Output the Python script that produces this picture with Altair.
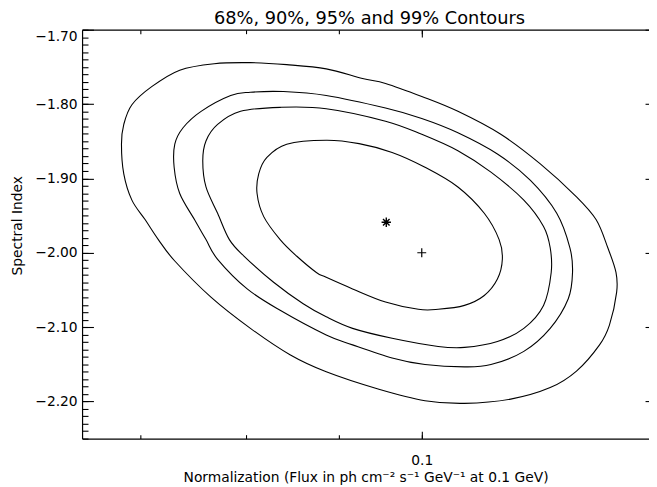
import altair as alt
import pandas as pd

# ---- data (closed loops, drawn with a closed curve) ----
# 68% contour
c68_x = [0.08217, 0.08426, 0.08859, 0.09236, 0.09631, 0.10041, 0.10469, 0.10825, 0.11031, 0.11076,
         0.11007, 0.10825, 0.10557, 0.10210, 0.09957, 0.09551, 0.09160, 0.08859, 0.08749, 0.08532,
         0.08356, 0.08184, 0.08115, 0.08132]
c68_y = [-1.8717, -1.8540, -1.8486, -1.8532, -1.8651, -1.8850, -1.9115, -1.9469, -1.9823, -2.0088,
         -2.0354, -2.0575, -2.0708, -2.0761, -2.0761, -2.0663, -2.0486, -2.0331, -2.0265, -2.0044,
         -1.9823, -1.9514, -1.9203, -1.8938]
# 90% contour
c90_x = [0.07719, 0.07947, 0.08356, 0.08859, 0.09551, 0.10000, 0.10469, 0.10917, 0.11382, 0.11670,
         0.11769, 0.11784, 0.11670, 0.11382, 0.11007, 0.10557, 0.10210, 0.09631, 0.09160, 0.08859,
         0.08604, 0.08287, 0.07981, 0.07835, 0.07719, 0.07606, 0.07575, 0.07606]
c90_y = [-1.8274, -1.8098, -1.8044, -1.8062, -1.8230, -1.8407, -1.8628, -1.8916, -1.9292, -1.9646,
         -1.9933, -2.0265, -2.0708, -2.1017, -2.1194, -2.1273, -2.1260, -2.1150, -2.1017, -2.0862,
         -2.0686, -2.0397, -2.0044, -1.9823, -1.9469, -1.9115, -1.8761, -1.8496]
# 95% contour
c95_x = [0.07559, 0.07848, 0.08047, 0.08391, 0.08859, 0.09551, 0.10000, 0.10469, 0.11007, 0.11478,
         0.11867, 0.12067, 0.12107, 0.12042, 0.11769, 0.11382, 0.10917, 0.10557, 0.10041, 0.09631,
         0.09160, 0.08859, 0.08356, 0.08014, 0.07719, 0.07606, 0.07497, 0.07357, 0.07305, 0.07311,
         0.07388]
c95_y = [-1.8098, -1.7885, -1.7841, -1.7832, -1.7885, -1.8054, -1.8194, -1.8386, -1.8672, -1.9027,
         -1.9469, -1.9933, -2.0265, -2.0619, -2.1017, -2.1327, -2.1504, -2.1535, -2.1504, -2.1415,
         -2.1239, -2.1106, -2.0774, -2.0486, -2.0088, -1.9823, -1.9557, -1.9203, -1.8850, -1.8540,
         -1.8319]
# 99% contour
c99_x = [0.07686, 0.08047, 0.08426, 0.08859, 0.09276, 0.09551, 0.10000, 0.10469, 0.11054, 0.11622,
         0.12168, 0.12476, 0.12661, 0.12793, 0.12804, 0.12687, 0.12529, 0.12168, 0.11769, 0.11194,
         0.10557, 0.10041, 0.09471, 0.08859, 0.08461, 0.08047, 0.07654, 0.07311, 0.07160, 0.07042,
         0.06924, 0.06853, 0.06833, 0.06853, 0.06924, 0.07100, 0.07357]
c99_y = [-1.7457, -1.7443, -1.7470, -1.7527, -1.7656, -1.7722, -1.7898, -1.8098, -1.8407, -1.8805,
         -1.9248, -1.9557, -1.9933, -2.0265, -2.0530, -2.0973, -2.1239, -2.1592, -2.1814, -2.1969,
         -2.2026, -2.1990, -2.1836, -2.1601, -2.1372, -2.1017, -2.0597, -2.0111, -1.9823, -1.9557,
         -1.9292, -1.8938, -1.8540, -1.8274, -1.8009, -1.7766, -1.7544]

# best fit (asterisk) and reference point (plus)
best_x = [0.0956]
best_y = [-1.959]
ref_x = [0.1]
ref_y = [-2.0]

# axes
X_DOMAIN = [0.065, 0.1334]
Y_DOMAIN = [-2.25, -1.70]
X_TICKS = [0.07, 0.08, 0.09, 0.1]
X_LABELED = [0.1]
Y_MAJOR = [-2.2, -2.1, -2.0, -1.9, -1.8, -1.7]
Y_MINOR = [round(-2.25 + 0.01 * i, 2) for i in range(56)]

TITLE = "68%, 90%, 95% and 99% Contours"
X_TITLE = "Normalization (Flux in ph cm\u207b\u00b2 s\u207b\u00b9 GeV\u207b\u00b9 at 0.1 GeV)"
Y_TITLE = "Spectral Index"

W, H = 574, 414
FONT = "DejaVu Sans"

xs = alt.Scale(type="log", domain=X_DOMAIN, nice=False)
ys = alt.Scale(domain=Y_DOMAIN, nice=False, zero=False)


def line_layer(xv, yv, xaxis, yaxis):
    df = pd.DataFrame({"x": xv, "y": yv, "i": list(range(len(xv)))})
    return alt.Chart(df).mark_line(color="black", strokeWidth=1.1,
                                   interpolate="cardinal-closed").encode(
        x=alt.X("x:Q", scale=xs, axis=xaxis),
        y=alt.Y("y:Q", scale=ys, axis=yaxis),
        order=alt.Order("i:Q"),
    )


def tick_axis(orient, offset, values, size, domain):
    return alt.Axis(orient=orient, offset=offset, values=values, tickSize=size,
                    labels=False, domain=domain, title=None, ticks=True)


ax_x_label = alt.Axis(orient="bottom", values=X_LABELED, format=".1f", ticks=False, domain=False,
                      labelPadding=15, title=X_TITLE, titlePadding=3)
ax_y_label = alt.Axis(orient="left", values=Y_MAJOR, format=".2f", ticks=False, domain=False,
                      labelPadding=5, labelFlush=True, labelFlushOffset=0,
                      title=Y_TITLE, titlePadding=10, titleY=198)

l68 = line_layer(c68_x, c68_y, ax_x_label, ax_y_label)
l90 = line_layer(c90_x, c90_y, tick_axis("top", -H, X_TICKS, 4, True),
                 tick_axis("right", -W, Y_MINOR, 6, True))
l95 = line_layer(c95_x, c95_y, tick_axis("top", -H, X_LABELED, 7.5, False),
                 tick_axis("right", -W, Y_MAJOR, 11.5, False))
l99 = line_layer(c99_x, c99_y, tick_axis("bottom", -H, X_TICKS, 4, True),
                 tick_axis("left", -W, Y_MAJOR, 4, False))

PLUS = "M-1,0L1,0M0,-1L0,1"
STAR = "M-1,0L1,0M0,-1L0,1M-0.7,-0.7L0.7,0.7M-0.7,0.7L0.7,-0.7"

ref_df = pd.DataFrame({"x": ref_x, "y": ref_y})
best_df = pd.DataFrame({"x": best_x, "y": best_y})

ref_layer = alt.Chart(ref_df).mark_point(shape=PLUS, filled=False, color="black",
                                         strokeWidth=1.2, size=81, opacity=1).encode(
    x=alt.X("x:Q", scale=xs, axis=tick_axis("bottom", -H, X_LABELED, 7.5, False)),
    y=alt.Y("y:Q", scale=ys, axis=None),
)
best_layer = alt.Chart(best_df).mark_point(shape=STAR, filled=False, color="black",
                                           strokeWidth=1.4, size=90, opacity=1).encode(
    x=alt.X("x:Q", scale=xs, axis=None),
    y=alt.Y("y:Q", scale=ys, axis=None),
)

chart = alt.layer(l68, l90, l95, l99, ref_layer, best_layer).resolve_scale(
    x="shared", y="shared"
).resolve_axis(
    x="independent", y="independent"
).properties(
    width=W, height=H,
    autosize=alt.AutoSizeParams(type="none"),
    padding={"left": 75, "top": 19, "right": 0, "bottom": 46},
    title=alt.TitleParams(text=TITLE, font=FONT, fontSize=18, fontWeight="normal",
                          color="black", anchor="middle", frame="group", offset=1, dx=4),
).configure_view(
    stroke=None
).configure_axis(
    grid=False,
    domainColor="black", domainWidth=1.2,
    tickColor="black", tickWidth=1.1,
    labelFont=FONT, labelFontSize=14, labelColor="black",
    titleFont=FONT, titleFontSize=14, titleFontWeight="normal", titleColor="black",
)

chart.save("out.html", embed_options={"renderer": "svg", "actions": False})
